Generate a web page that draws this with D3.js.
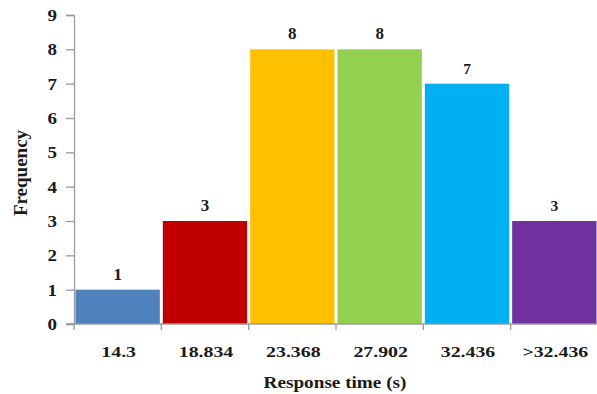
<!DOCTYPE html>
<html>
<head>
<meta charset="utf-8">
<script src="https://cdn.jsdelivr.net/npm/d3@7"></script>
<style>
  html, body { margin: 0; padding: 0; background: #fff; }
  svg { display: block; }
  text { font-family: "Liberation Serif", "Times New Roman", serif; font-weight: bold; fill: #1a1a1a; }
</style>
</head>
<body>
<svg id="chart" width="597" height="394"></svg>
<script>
const categories = ["14.3", "18.834", "23.368", "27.902", "32.436", ">32.436"];
const frequencies = [1, 3, 8, 8, 7, 3];
const barColors = ["#4F81BD", "#C00000", "#FFC000", "#92D050", "#00B0F0", "#7030A0"];
const yTicks = [0, 1, 2, 3, 4, 5, 6, 7, 8, 9];

const svg = d3.select("#chart");
const plotLeft = 74, plotRight = 598, plotTop = 15, plotBottom = 324;
const axisGrey = "#9a9a9a";

const x = d3.scaleBand().domain(categories).range([plotLeft, plotRight]).padding(0);
const y = d3.scaleLinear().domain([0, 9]).range([plotBottom, plotTop]);

// y axis; labels are stretched a little horizontally
const yLabelStretch = 1.12;
const yAxis = svg.append("g")
  .attr("transform", `translate(${plotLeft},0)`)
  .call(d3.axisLeft(y).tickValues(yTicks).tickSize(8).tickPadding(9).tickFormat(d3.format("d")));
yAxis.select(".domain").attr("stroke", axisGrey).attr("stroke-width", 1.3);
yAxis.selectAll(".tick line").attr("stroke", axisGrey).attr("stroke-width", 1.3);
yAxis.selectAll(".tick text")
  .attr("font-size", 17).attr("fill", "#1a1a1a")
  .attr("font-family", "Liberation Serif, serif").attr("font-weight", "bold")
  .attr("transform", `scale(${yLabelStretch},1)`)
  .attr("x", -17 / yLabelStretch);

// bars, separated by thin white gaps
svg.append("g").selectAll("rect")
  .data(frequencies)
  .join("rect")
  .attr("x", (d, i) => x(categories[i]) + 1.5)
  .attr("y", d => y(d))
  .attr("width", x.bandwidth() - 3)
  .attr("height", d => y(0) - y(d))
  .attr("fill", (d, i) => barColors[i]);

// x axis baseline and ticks at band boundaries
const xg = svg.append("g");
xg.append("line")
  .attr("x1", plotLeft - 8).attr("x2", plotRight)
  .attr("y1", plotBottom).attr("y2", plotBottom)
  .attr("stroke", axisGrey).attr("stroke-width", 1.3);
xg.selectAll("line.tk")
  .data(categories)
  .join("line")
  .attr("class", "tk")
  .attr("x1", d => x(d)).attr("x2", d => x(d))
  .attr("y1", plotBottom).attr("y2", plotBottom + 6)
  .attr("stroke", axisGrey).attr("stroke-width", 1.3);

// category labels (set slightly wide)
svg.append("g").selectAll("text")
  .data(categories)
  .join("text")
  .attr("transform", d => `translate(${x(d) + x.bandwidth() / 2 + 1},357) scale(1.28,1)`)
  .attr("text-anchor", "middle")
  .attr("font-size", 15.5)
  .text(d => d);

// value labels above each bar
svg.append("g").selectAll("text")
  .data(frequencies)
  .join("text")
  .attr("x", (d, i) => x(categories[i]) + x.bandwidth() / 2)
  .attr("y", d => y(d) - 10)
  .attr("text-anchor", "middle")
  .attr("font-size", (d, i) => i >= 4 ? 15.5 : 17)
  .attr("font-family", (d, i) => i >= 4 ? "Liberation Sans, Arial, sans-serif" : "Liberation Serif, serif")
  .text(d => d);

// axis titles
svg.append("text")
  .attr("transform", "translate(335,388) scale(1.2,1)")
  .attr("text-anchor", "middle")
  .attr("font-size", 16)
  .text("Response time (s)");

svg.append("text")
  .attr("transform", "translate(27,173) rotate(-90)")
  .attr("text-anchor", "middle")
  .attr("font-size", 19)
  .text("Frequency");
</script>
</body>
</html>
